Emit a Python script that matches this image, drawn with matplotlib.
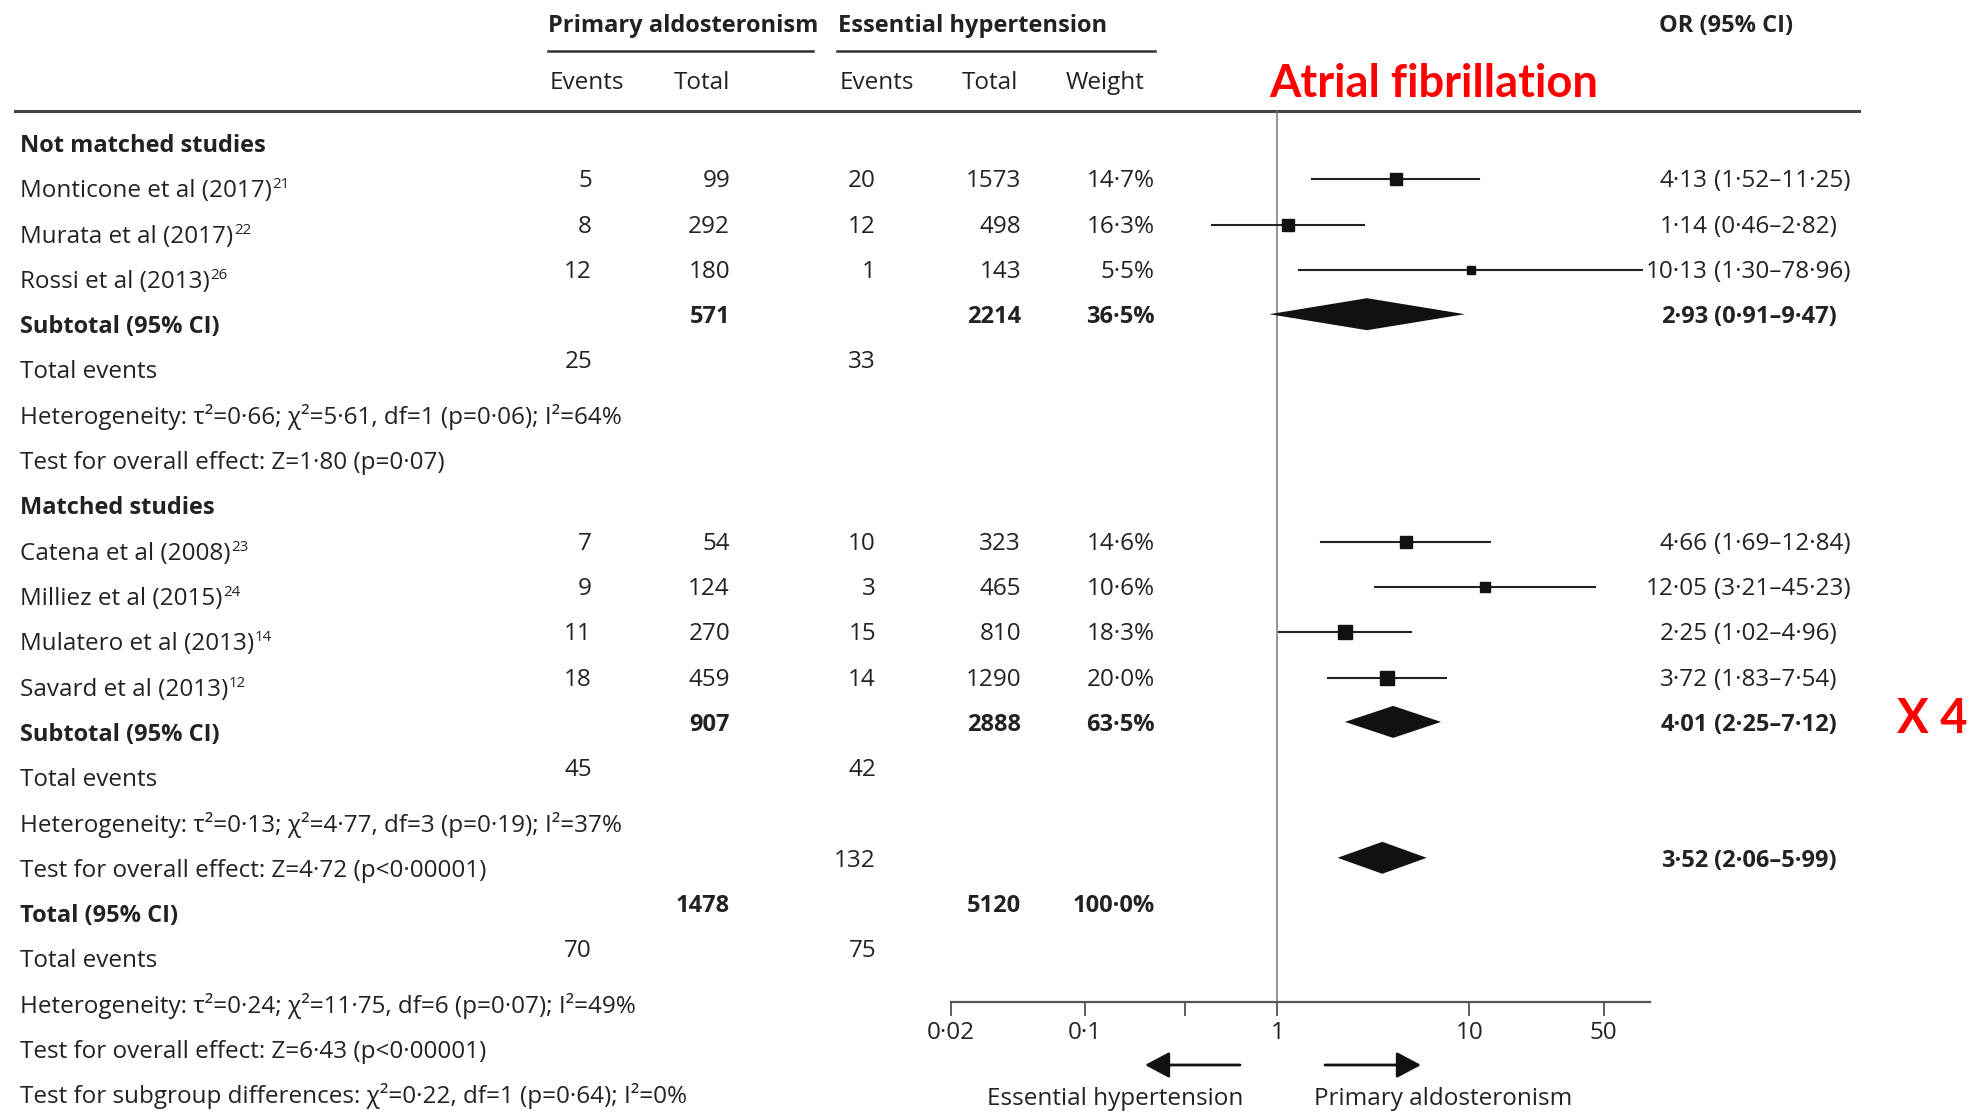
import numpy as np
import matplotlib.pyplot as plt
from matplotlib.ticker import NullLocator

# not matched studies
labels_nm = ['Monticone et al (2017)', 'Murata et al (2017)', 'Rossi et al (2013)']
refs_nm = ['21', '22', '26']
pa_events_nm = [5, 8, 12]
pa_total_nm = [99, 292, 180]
eh_events_nm = [20, 12, 1]
eh_total_nm = [1573, 498, 143]
weight_nm = [14.7, 16.3, 5.5]
or_nm = [4.13, 1.14, 10.13]
lo_nm = [1.52, 0.46, 1.30]
hi_nm = [11.25, 2.82, 78.96]
het_nm = 'Heterogeneity: τ²=0·66; χ²=5·61, df=1 (p=0·06); I²=64%'
z_nm = 'Test for overall effect: Z=1·80 (p=0·07)'

# matched studies
labels_m = ['Catena et al (2008)', 'Milliez et al (2015)', 'Mulatero et al (2013)', 'Savard et al (2013)']
refs_m = ['23', '24', '14', '12']
pa_events_m = [7, 9, 11, 18]
pa_total_m = [54, 124, 270, 459]
eh_events_m = [10, 3, 15, 14]
eh_total_m = [323, 465, 810, 1290]
weight_m = [14.6, 10.6, 18.3, 20.0]
or_m = [4.66, 12.05, 2.25, 3.72]
lo_m = [1.69, 3.21, 1.02, 1.83]
hi_m = [12.84, 45.23, 4.96, 7.54]
het_m = 'Heterogeneity: τ²=0·13; χ²=4·77, df=3 (p=0·19); I²=37%'
z_m = 'Test for overall effect: Z=4·72 (p<0·00001)'

# pooled: not matched subtotal, matched subtotal, overall
pooled_or = [2.93, 4.01, 3.52]
pooled_lo = [0.91, 2.25, 2.06]
pooled_hi = [9.47, 7.12, 5.99]
pooled_pa_total = [571, 907, 1478]
pooled_eh_total = [2214, 2888, 5120]
pooled_weight = [36.5, 63.5, 100.0]
pooled_pa_events = [25, 45, 70]
pooled_eh_events = [33, 42, 75]
eh_events_overall = 132
het_all = 'Heterogeneity: τ²=0·24; χ²=11·75, df=6 (p=0·07); I²=49%'
z_all = 'Test for overall effect: Z=6·43 (p<0·00001)'
subgroup_test = 'Test for subgroup differences: χ²=0·22, df=1 (p=0·64); I²=0%'

ticks = [0.02, 0.1, 0.33, 1, 10, 50]
tick_labels = ['0·02', '0·1', '', '1', '10', '50']

W, H = 1983, 1113
INK = '#222222'
FS = 17.5    # regular text
FSB = 17.0   # bold text
plt.rcParams['font.family'] = ['Open Sans', 'DejaVu Sans']

fig = plt.figure(figsize=(W / 100, H / 100), dpi=100)
bg = fig.add_axes([0, 0, 1, 1])
bg.set_xlim(0, W)
bg.set_ylim(H, 0)
bg.axis('off')

# forest panel, log scale, pixel rows on y
x0, x1, decade = 950.7, 1650, 192.2
y_top, y_axis = 111, 1002
fax = fig.add_axes([x0 / W, 1 - y_axis / H, (x1 - x0) / W, (y_axis - y_top) / H])
fax.set_facecolor('none')
fax.set_xscale('log')
fax.set_xlim(0.02, 0.02 * 10 ** ((x1 - x0) / decade))
fax.set_ylim(y_axis, y_top)
fax.set_xticks(ticks)
fax.set_xticklabels(tick_labels)
fax.xaxis.set_minor_locator(NullLocator())
fax.set_yticks([])
for s in ['left', 'right', 'top']:
    fax.spines[s].set_visible(False)
fax.spines['bottom'].set_color('#555555')
fax.spines['bottom'].set_linewidth(1.6)
fax.tick_params(axis='x', direction='out', length=10, width=1.1, color='#333333',
                pad=3.5, labelsize=FS, labelcolor=INK)
fax.axvline(1, color='#777777', lw=1.1, zorder=0)


def fmt(v, nd=2):
    return f'{v:.{nd}f}'.replace('.', '·')


def put(x, y, s, ha='left', bold=False, **kw):
    kw.setdefault('fontsize', FSB if bold else FS)
    kw.setdefault('color', INK)
    return bg.text(x, y, s, ha=ha, va='baseline',
                   fontweight='bold' if bold else 'normal', **kw)


# header
put(548, 32, 'Primary aldosteronism', bold=True)
put(838, 32, 'Essential hypertension', bold=True)
put(1659, 32, 'OR (95% CI)', bold=True)
bg.plot([548, 813], [51, 51], color='#333333', lw=1.8)
bg.plot([837, 1155], [51, 51], color='#333333', lw=1.8)
put(550, 89, 'Events')
put(730, 89, 'Total', ha='right')
put(840, 89, 'Events')
put(1018, 89, 'Total', ha='right')
put(1066, 89, 'Weight')
bg.plot([15, 1859], [111, 111], color='#444444', lw=2.2)
bg.text(1269, 97, 'Atrial fibrillation', color='red', fontsize=32.6,
        fontweight='bold', family='Lato', va='baseline')
bg.text(1897, 733, 'X 4', color='red', fontsize=34,
        fontweight='bold', family='Lato', va='baseline')

ROW0, STEP = 152, 45.3
COL_PA_EV, COL_PA_TOT, COL_EH_EV, COL_EH_TOT, COL_W, COL_OR = 592, 730, 876, 1021, 1155, 1714


def base(i):
    return ROW0 + STEP * i


def numbers(yb, vals, bold=False):
    for x, v in zip([COL_PA_EV, COL_PA_TOT, COL_EH_EV, COL_EH_TOT, COL_W], vals):
        if v != '':
            put(x, yb - 10, v, ha='right', bold=bold)


def or_text(yb, est, lo, hi, bold=False):
    put(COL_OR - 6, yb - 10, fmt(est), ha='right', bold=bold)
    put(COL_OR, yb - 10, f'({fmt(lo)}–{fmt(hi)})', bold=bold)


def diamond(yb, est, lo, hi):
    yc = yb - 19
    fax.fill([lo, est, hi, est], [yc, yc - 16, yc, yc + 16], color='#111111', lw=0)


groups = [
    ('Not matched studies', labels_nm, refs_nm, pa_events_nm, pa_total_nm, eh_events_nm,
     eh_total_nm, weight_nm, or_nm, lo_nm, hi_nm, het_nm, z_nm),
    ('Matched studies', labels_m, refs_m, pa_events_m, pa_total_m, eh_events_m,
     eh_total_m, weight_m, or_m, lo_m, hi_m, het_m, z_m),
]

row = 0
for k, (title, labels, refs, pa_ev, pa_tot, eh_ev, eh_tot, wts, est, lo, hi, het, zt) in enumerate(groups):
    put(20, base(row), title, bold=True)
    row += 1
    for j in range(len(labels)):
        yb = base(row)
        t = put(20, yb, labels[j])
        # reference number as a superscript after the study name
        bg.annotate(refs[j], xy=(1, 1), xycoords=t, xytext=(0.5, 1.5), textcoords='offset points',
                    ha='left', va='top', fontsize=FS * 0.62, color=INK)
        numbers(yb, [str(pa_ev[j]), str(pa_tot[j]), str(eh_ev[j]), str(eh_tot[j]),
                     fmt(wts[j], 1) + '%'])
        yc = yb - 18
        fax.plot([lo[j], hi[j]], [yc, yc], color=INK, lw=1.5)
        fax.plot(est[j], yc, marker='s', ms=0.72 * 3.2 * np.sqrt(wts[j]), color='#111111', lw=0)
        or_text(yb, est[j], lo[j], hi[j])
        row += 1
    yb = base(row)
    put(20, yb, 'Subtotal (95% CI)', bold=True)
    numbers(yb, ['', str(pooled_pa_total[k]), '', str(pooled_eh_total[k]),
                 fmt(pooled_weight[k], 1) + '%'], bold=True)
    diamond(yb, pooled_or[k], pooled_lo[k], pooled_hi[k])
    or_text(yb, pooled_or[k], pooled_lo[k], pooled_hi[k], bold=True)
    row += 1
    yb = base(row)
    put(20, yb, 'Total events')
    numbers(yb, [str(pooled_pa_events[k]), '', str(pooled_eh_events[k]), '', ''])
    row += 1
    put(20, base(row), het)
    row += 1
    put(20, base(row), zt)
    if k == 1:
        yb = base(row)
        numbers(yb, ['', '', str(eh_events_overall), '', ''])
        diamond(yb, pooled_or[2], pooled_lo[2], pooled_hi[2])
        or_text(yb, pooled_or[2], pooled_lo[2], pooled_hi[2], bold=True)
    row += 1

yb = base(row)
put(20, yb, 'Total (95% CI)', bold=True)
numbers(yb, ['', str(pooled_pa_total[2]), '', str(pooled_eh_total[2]),
             fmt(pooled_weight[2], 1) + '%'], bold=True)
row += 1
yb = base(row)
put(20, yb, 'Total events')
numbers(yb, [str(pooled_pa_events[2]), '', str(pooled_eh_events[2]), '', ''])
row += 1
for line in [het_all, z_all, subgroup_test]:
    put(20, base(row), line)
    row += 1

# direction arrows under the axis
arrow = dict(arrowstyle='-|>,head_length=0.75,head_width=0.4', color='#111111', lw=2,
             mutation_scale=20, shrinkA=0, shrinkB=0)
bg.annotate('', xy=(1145, 1065), xytext=(1240, 1065), arrowprops=arrow)
bg.annotate('', xy=(1421, 1065), xytext=(1325, 1065), arrowprops=arrow)
put(1115, 1105, 'Essential hypertension', ha='center')
put(1443, 1105, 'Primary aldosteronism', ha='center')

fig.savefig('out.png', dpi=100)
